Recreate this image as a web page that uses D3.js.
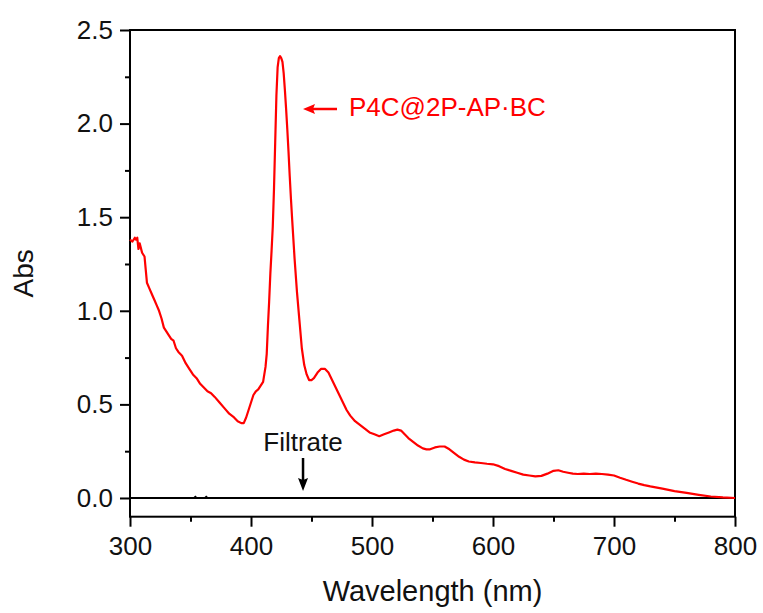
<!DOCTYPE html>
<html lang="en">
<head>
    <meta charset="UTF-8" />
    <title>UV-Vis absorbance</title>
    <script src="https://d3js.org/d3.v7.min.js"></script>
    <style>
        body { margin: 0; background: #fff; }
        svg { font-family: "Liberation Sans", Arial, sans-serif; }
        .tick text { font-size: 26px; fill: #111; }
        .tick line { stroke: #000; stroke-width: 2; }
    </style>
</head>
<body>
<svg id="chart"></svg>
<script>
    // P4C@2P-AP·BC spectrum
    const wavelength = [300, 302, 304, 305, 306, 307, 308, 310, 312, 313, 314, 316, 318, 320, 322, 324, 326, 328, 330, 332, 334, 336, 338, 340,
        343, 346, 349, 352, 355, 358, 361, 364, 367, 370, 374, 378, 382, 386, 389, 392, 394, 396, 398, 400, 402, 404, 406, 408, 410,
        412, 413, 414, 415, 416, 417, 418, 419, 420, 421, 422, 423, 424, 425, 426, 427, 428, 429, 430, 431, 432, 433, 434, 436, 438,
        440, 442, 444, 446, 448, 450, 452, 455, 458, 461, 464, 467, 470, 473, 476, 479, 482, 486, 490, 494, 498, 502, 506, 510, 514,
        518, 521, 524, 527, 530, 534, 538, 542, 545, 548, 552, 556, 560, 564, 568, 572, 576, 580, 585, 590, 595, 600, 605, 610, 615,
        620, 625, 630, 635, 640, 645, 650, 654, 658, 662, 666, 670, 675, 680, 685, 690, 695, 700, 705, 710, 715, 720, 725, 730, 740,
        750, 760, 770, 780, 790, 800];
    const absSample = [1.38, 1.37, 1.39, 1.38, 1.39, 1.33, 1.36, 1.31, 1.29, 1.22, 1.15, 1.12, 1.09, 1.06, 1.03, 1.00, 0.96, 0.91, 0.89, 0.87, 0.85, 0.84, 0.80, 0.78,
        0.76, 0.72, 0.69, 0.66, 0.64, 0.61, 0.59, 0.57, 0.56, 0.54, 0.51, 0.48, 0.45, 0.43, 0.41, 0.40, 0.40, 0.43, 0.47, 0.51, 0.55, 0.57, 0.58, 0.60, 0.62,
        0.70, 0.77, 0.92, 1.05, 1.20, 1.32, 1.45, 1.65, 1.90, 2.15, 2.30, 2.35, 2.36, 2.35, 2.33, 2.27, 2.18, 2.08, 1.97, 1.85, 1.72, 1.60, 1.49, 1.28, 1.10,
        0.95, 0.80, 0.71, 0.66, 0.63, 0.63, 0.64, 0.67, 0.69, 0.69, 0.67, 0.63, 0.59, 0.55, 0.51, 0.47, 0.44, 0.41, 0.39, 0.37, 0.35, 0.34, 0.33, 0.34, 0.35,
        0.36, 0.365, 0.36, 0.34, 0.32, 0.30, 0.28, 0.265, 0.26, 0.26, 0.27, 0.275, 0.275, 0.26, 0.24, 0.22, 0.205, 0.195, 0.19, 0.187, 0.183, 0.18, 0.17, 0.155, 0.145,
        0.135, 0.125, 0.12, 0.115, 0.118, 0.13, 0.145, 0.148, 0.14, 0.135, 0.13, 0.128, 0.13, 0.128, 0.13, 0.128, 0.125, 0.12, 0.108, 0.097, 0.087, 0.077, 0.069, 0.062, 0.05,
        0.037, 0.027, 0.017, 0.008, 0.003, 0.0];

    // filtrate: flat at zero with two tiny blips
    const filtrateWavelength = [300, 353, 354, 355, 362, 363, 364, 800];
    const absFiltrate = [0, 0, 0.006, 0, 0, 0.006, 0, 0];

    const xTicks = [300, 400, 500, 600, 700, 800];
    const xMinor = [350, 450, 550, 650, 750];
    const yTicks = [0.0, 0.5, 1.0, 1.5, 2.0, 2.5];
    const yMinor = [0.25, 0.75, 1.25, 1.75, 2.25];

    const width = 763, height = 613;
    const margin = { top: 30, right: 28, bottom: 96.3, left: 130 };
    const svg = d3.select("#chart").attr("width", width).attr("height", height);

    const x = d3.scaleLinear().domain([300, 800]).range([margin.left, width - margin.right]);
    const y = d3.scaleLinear().domain([-0.1, 2.5]).range([height - margin.bottom, margin.top]);

    const line = d3.line().x(d => x(d[0])).y(d => y(d[1]));

    // minor ticks
    svg.append("g")
        .attr("transform", `translate(0,${y(-0.1)})`)
        .call(d3.axisBottom(x).tickValues(xMinor).tickSize(5).tickFormat(""))
        .call(g => g.select(".domain").remove());
    svg.append("g")
        .attr("transform", `translate(${x(300)},0)`)
        .call(d3.axisLeft(y).tickValues(yMinor).tickSize(5).tickFormat(""))
        .call(g => g.select(".domain").remove());

    // major ticks + labels
    svg.append("g")
        .attr("transform", `translate(0,${y(-0.1)})`)
        .call(d3.axisBottom(x).tickValues(xTicks).tickSize(10).tickPadding(10).tickFormat(d3.format("d")))
        .call(g => g.select(".domain").remove());
    svg.append("g")
        .attr("transform", `translate(${x(300)},0)`)
        .call(d3.axisLeft(y).tickValues(yTicks).tickSize(10).tickPadding(7).tickFormat(d3.format(".1f")))
        .call(g => g.select(".domain").remove());

    // frame
    svg.append("rect")
        .attr("x", x(300)).attr("y", y(2.5))
        .attr("width", x(800) - x(300)).attr("height", y(-0.1) - y(2.5))
        .attr("fill", "none").attr("stroke", "#000").attr("stroke-width", 2);

    // filtrate line
    svg.append("path")
        .datum(d3.zip(filtrateWavelength, absFiltrate))
        .attr("fill", "none").attr("stroke", "#000").attr("stroke-width", 2)
        .attr("d", line);

    // sample curve
    svg.append("path")
        .datum(d3.zip(wavelength, absSample))
        .attr("fill", "none").attr("stroke", "#ff0000").attr("stroke-width", 2.2)
        .attr("stroke-linejoin", "round")
        .attr("d", line);

    // axis titles
    svg.append("text")
        .attr("x", (x(300) + x(800)) / 2).attr("y", 601)
        .attr("text-anchor", "middle").attr("font-size", 29).attr("fill", "#111")
        .text("Wavelength (nm)");
    svg.append("text")
        .attr("transform", `translate(33,${y(1.2)}) rotate(-90)`)
        .attr("text-anchor", "middle").attr("font-size", 28).attr("fill", "#111")
        .text("Abs");

    // annotations: red arrow pointing at the peak
    svg.append("line")
        .attr("x1", 337).attr("y1", 109).attr("x2", 312).attr("y2", 109)
        .attr("stroke", "#ff0000").attr("stroke-width", 2.5);
    svg.append("path")
        .attr("d", "M303,109L315,104L313,109L315,114Z")
        .attr("fill", "#ff0000");
    svg.append("text")
        .attr("x", 349).attr("y", 116)
        .attr("font-size", 26).attr("fill", "#ff0000")
        .text("P4C@2P-AP·BC");

    // filtrate label with down arrow
    const fx = x(443);
    svg.append("text")
        .attr("x", fx).attr("y", 451)
        .attr("text-anchor", "middle").attr("font-size", 26).attr("fill", "#111")
        .text("Filtrate");
    svg.append("line")
        .attr("x1", fx).attr("y1", 458).attr("x2", fx).attr("y2", 481)
        .attr("stroke", "#000").attr("stroke-width", 2.5);
    svg.append("path")
        .attr("d", `M${fx},491L${fx - 5},478L${fx},480L${fx + 5},478Z`)
        .attr("fill", "#000");
</script>
</body>
</html>
